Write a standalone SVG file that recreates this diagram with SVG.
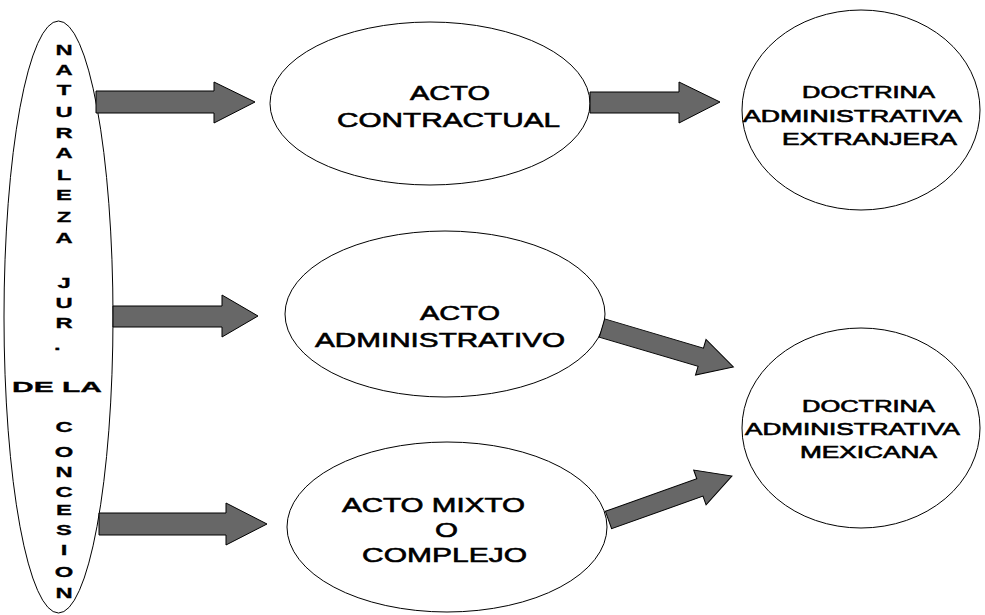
<svg xmlns="http://www.w3.org/2000/svg" width="985" height="615" viewBox="0 0 985 615">
  <style>
    .bg { fill: #ffffff; }
    .node { fill: #ffffff; stroke: #000000; stroke-width: 1; }
    .lbl { font-family: "Liberation Sans", Arial, sans-serif; fill: #000000; stroke: #000000; stroke-width: 0.6; }
    .big { font-size: 21px; }
    .mid { font-size: 16px; }
    .vert { font-size: 14px; font-weight: bold; text-anchor: middle; stroke-width: 0.3; }
    .arrow { fill: #676767; stroke: #000000; stroke-width: 1; stroke-linejoin: miter; }
  </style>
  <rect class="bg" x="0" y="0" width="985" height="615"/>

  <!-- Vertical title ellipse -->
  <g id="naturaleza">
    <ellipse class="node" cx="58.5" cy="317" rx="54.5" ry="296"/>
    <g class="lbl vert" transform="translate(64,0) scale(1.7,1)">
      <text x="0" y="55">N</text>
      <text x="0" y="75">A</text>
      <text x="0" y="95">T</text>
      <text x="0" y="117">U</text>
      <text x="0" y="138">R</text>
      <text x="0" y="158">A</text>
      <text x="0" y="180">L</text>
      <text x="0" y="200">E</text>
      <text x="0" y="222">Z</text>
      <text x="0" y="243">A</text>
      <text x="0" y="288">J</text>
      <text x="0" y="308">U</text>
      <text x="0" y="328">R</text>
      <text x="-4" y="350">.</text>
      <text x="0" y="432">C</text>
      <text x="0" y="457">O</text>
      <text x="0" y="477">N</text>
      <text x="0" y="497">C</text>
      <text x="0" y="515">E</text>
      <text x="0" y="535">S</text>
      <text x="0" y="555">I</text>
      <text x="0" y="577">O</text>
      <text x="0" y="598">N</text>
    </g>
    <text class="lbl" font-size="14" font-weight="bold" style="stroke-width:0.3" x="12" y="392" textLength="90" lengthAdjust="spacingAndGlyphs">DE LA</text>
  </g>

  <g id="contractual">
    <ellipse class="node" cx="430" cy="103.5" rx="160" ry="81.5"/>
    <text class="lbl big" x="410" y="100" textLength="80" lengthAdjust="spacingAndGlyphs">ACTO</text>
    <text class="lbl big" x="337" y="127" textLength="223" lengthAdjust="spacingAndGlyphs">CONTRACTUAL</text>
  </g>

  <g id="administrativo">
    <ellipse class="node" cx="445" cy="314" rx="160" ry="83"/>
    <text class="lbl big" x="420" y="320" textLength="80" lengthAdjust="spacingAndGlyphs">ACTO</text>
    <text class="lbl big" x="315" y="347" textLength="250" lengthAdjust="spacingAndGlyphs">ADMINISTRATIVO</text>
  </g>

  <g id="mixto">
    <ellipse class="node" cx="447" cy="527" rx="160" ry="85"/>
    <text class="lbl big" x="342" y="512" textLength="183" lengthAdjust="spacingAndGlyphs">ACTO MIXTO</text>
    <text class="lbl big" x="435" y="537" textLength="23" lengthAdjust="spacingAndGlyphs">O</text>
    <text class="lbl big" x="362" y="562" textLength="165" lengthAdjust="spacingAndGlyphs">COMPLEJO</text>
  </g>

  <g id="extranjera">
    <ellipse class="node" cx="861" cy="110" rx="119" ry="100"/>
    <text class="lbl mid" x="802" y="98" textLength="133" lengthAdjust="spacingAndGlyphs">DOCTRINA</text>
    <text class="lbl mid" x="743" y="122" textLength="219" lengthAdjust="spacingAndGlyphs">ADMINISTRATIVA</text>
    <text class="lbl mid" x="782" y="145" textLength="175" lengthAdjust="spacingAndGlyphs">EXTRANJERA</text>
  </g>

  <g id="mexicana">
    <ellipse class="node" cx="861" cy="428" rx="119" ry="100"/>
    <text class="lbl mid" x="802" y="412" textLength="133" lengthAdjust="spacingAndGlyphs">DOCTRINA</text>
    <text class="lbl mid" x="745" y="435" textLength="215" lengthAdjust="spacingAndGlyphs">ADMINISTRATIVA</text>
    <text class="lbl mid" x="800" y="458" textLength="137" lengthAdjust="spacingAndGlyphs">MEXICANA</text>
  </g>

  <!-- Block arrows -->
  <g id="connectors">
    <polygon class="arrow" points="96,91 214,91 214,82 255,102 214,123 214,113 96,113"/>
    <polygon class="arrow" points="113,306 222,306 222,295 258,316 222,337 222,327 113,327"/>
    <polygon class="arrow" points="99,513 226,513 226,503 267,524 226,545 226,535 99,535"/>
    <polygon class="arrow" points="590,92 679,92 679,82 720,102 679,123 679,113 590,113"/>
    <polygon class="arrow" transform="translate(602,328) rotate(16.5)" points="0,-9.5 103,-9.5 103,-18.5 137,0 103,18.5 103,9.5 0,9.5"/>
    <polygon class="arrow" transform="translate(608.5,520) rotate(-19.6)" points="0,-9.2 97,-9.2 97,-18.5 131,0 97,18.5 97,9.2 0,9.2"/>
  </g>
</svg>
